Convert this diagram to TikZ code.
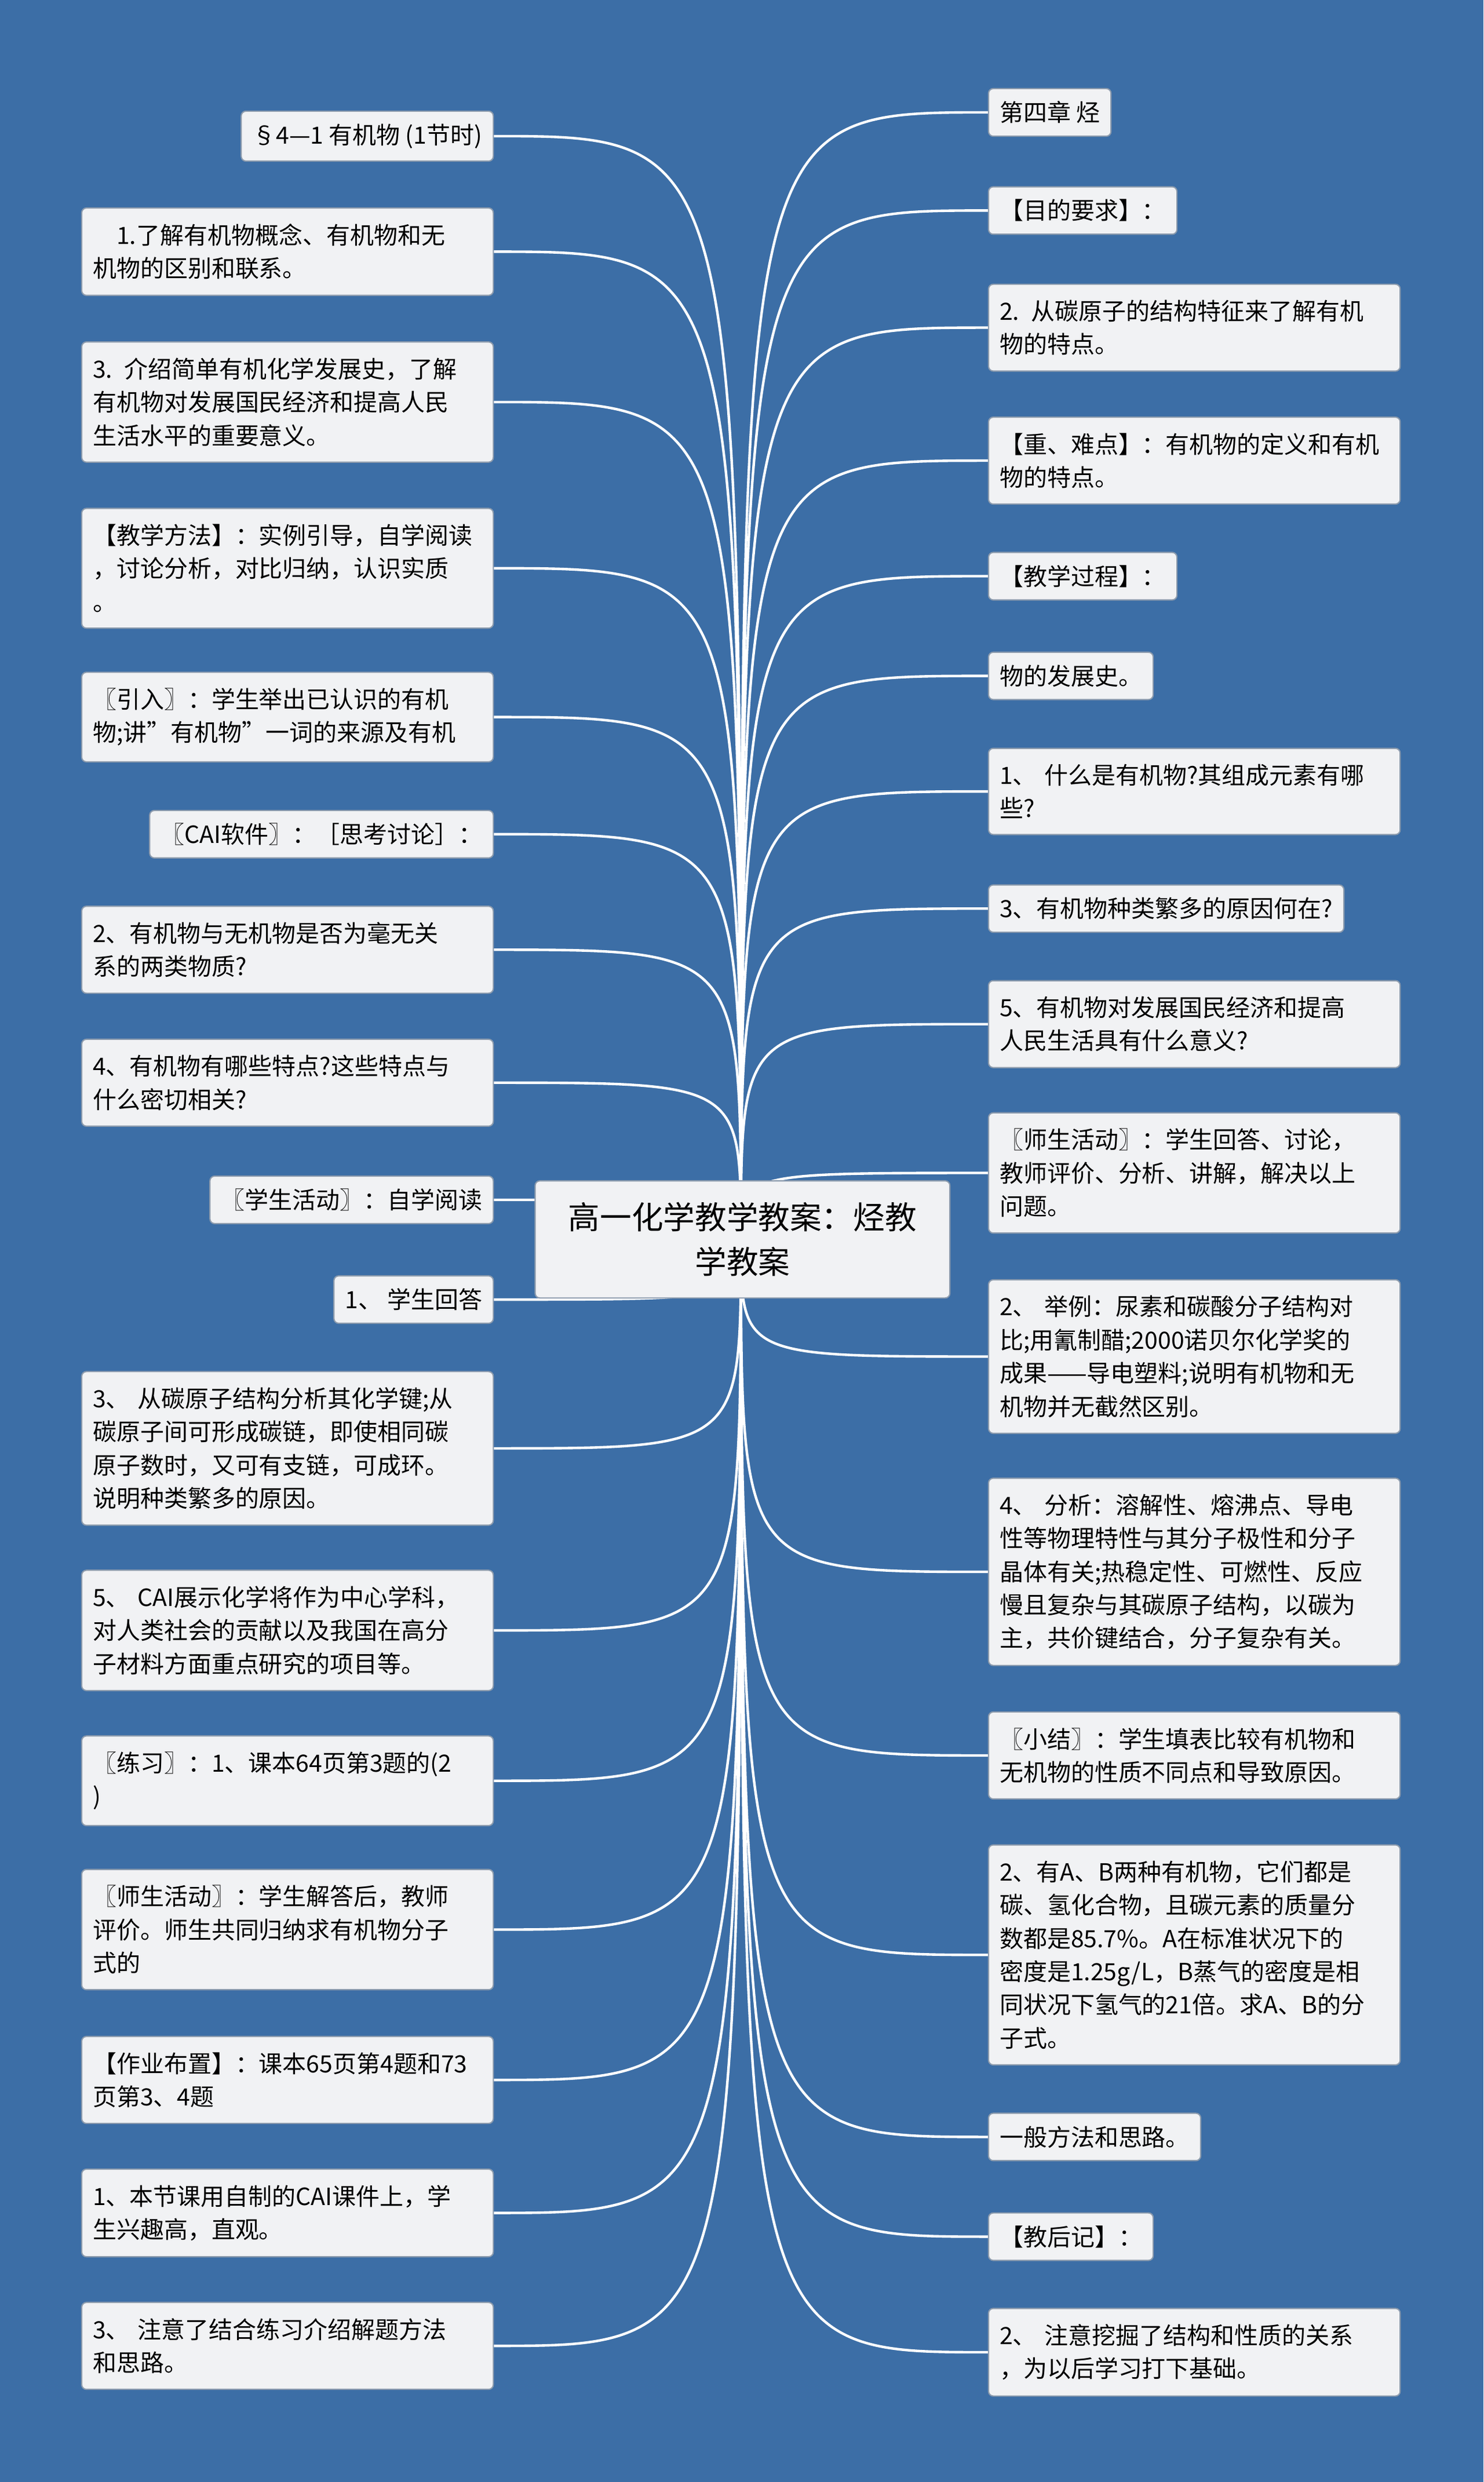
\documentclass[tikz,border=0pt]{standalone}
\usepackage{fontspec}
\setmainfont{Noto Sans CJK SC}
\usetikzlibrary{positioning,calc}
\definecolor{bgblue}{HTML}{3C6EA6}
\definecolor{boxfill}{HTML}{F1F2F4}
\definecolor{boxline}{HTML}{8C9BAD}
\tikzset{%
  topic/.style={draw=boxline,fill=boxfill,rounded corners=3pt,line width=0.8pt,inner xsep=7pt,inner ysep=8pt,
    font=\fontsize{15}{21}\selectfont,align=left},
  wide/.style={topic,text width=246pt,inner ysep=10pt},
  lnode/.style={anchor=east},
  rnode/.style={anchor=west},
}
\begin{document}
\begin{tikzpicture}[x=1pt,y=-1pt,
            link/.style={draw=white,line width=1.6pt}
            ]
  \fill[bgblue] (0,0) rectangle (937,1568);
  \useasboundingbox (0,0) rectangle (937,1568);
  \coordinate (hub) at (468,783);
  % left side
  \node[topic,lnode] (l1) at (312,86) {§4—1 有机物 (1节时)};
  \node[wide,lnode] (l2) at (312,159) {\hspace*{1em}1.了解有机物概念、有机物和无\\机物的区别和联系。};
  \node[wide,lnode] (l3) at (312,254) {3. 介绍简单有机化学发展史，了解\\有机物对发展国民经济和提高人民\\生活水平的重要意义。};
  \node[wide,lnode] (l4) at (312,359) {【教学方法】：实例引导，自学阅读\\，讨论分析，对比归纳，认识实质\\。};
  \node[wide,lnode] (l5) at (312,453) {〖引入〗：学生举出已认识的有机\\物;讲"有机物"一词的来源及有机};
  \node[topic,lnode] (l6) at (312,527) {〖CAI软件〗：［思考讨论］：};
  \node[wide,lnode] (l7) at (312,600) {2、有机物与无机物是否为毫无关\\系的两类物质?};
  \node[wide,lnode] (l8) at (312,684) {4、有机物有哪些特点?这些特点与\\什么密切相关?};
  \node[topic,lnode] (l9) at (312,758) {〖学生活动〗：自学阅读};
  \node[topic,lnode] (l10) at (312,821) {1、 学生回答};
  \node[wide,lnode] (l11) at (312,915) {3、 从碳原子结构分析其化学键;从\\碳原子间可形成碳链，即使相同碳\\原子数时，又可有支链，可成环。\\说明种类繁多的原因。};
  \node[wide,lnode] (l12) at (312,1030) {5、 CAI展示化学将作为中心学科，\\对人类社会的贡献以及我国在高分\\子材料方面重点研究的项目等。};
  \node[wide,lnode] (l13) at (312,1125) {〖练习〗：1、课本64页第3题的(2\\)};
  \node[wide,lnode] (l14) at (312,1219) {〖师生活动〗：学生解答后，教师\\评价。师生共同归纳求有机物分子\\式的};
  \node[wide,lnode] (l15) at (312,1314) {【作业布置】：课本65页第4题和73\\页第3、4题};
  \node[wide,lnode] (l16) at (312,1398) {1、本节课用自制的CAI课件上，学\\生兴趣高，直观。};
  \node[wide,lnode] (l17) at (312,1482) {3、 注意了结合练习介绍解题方法\\和思路。};
  % right side
  \node[topic,rnode] (r1) at (624,71) {第四章 烃};
  \node[topic,rnode] (r2) at (624,133) {【目的要求】：};
  \node[wide,rnode] (r3) at (624,207) {2. 从碳原子的结构特征来了解有机\\物的特点。};
  \node[wide,rnode] (r4) at (624,291) {【重、难点】：有机物的定义和有机\\物的特点。};
  \node[topic,rnode] (r5) at (624,364) {【教学过程】：};
  \node[topic,rnode] (r6) at (624,427) {物的发展史。};
  \node[wide,rnode] (r7) at (624,500) {1、 什么是有机物?其组成元素有哪\\些?};
  \node[topic,rnode] (r8) at (624,574) {3、有机物种类繁多的原因何在?};
  \node[wide,rnode] (r9) at (624,647) {5、有机物对发展国民经济和提高\\人民生活具有什么意义?};
  \node[wide,rnode] (r10) at (624,741) {〖师生活动〗：学生回答、讨论，\\教师评价、分析、讲解，解决以上\\问题。};
  \node[wide,rnode] (r11) at (624,857) {2、 举例：尿素和碳酸分子结构对\\比;用氰制醋;2000诺贝尔化学奖的\\成果——导电塑料;说明有机物和无\\机物并无截然区别。};
  \node[wide,rnode] (r12) at (624,993) {4、 分析：溶解性、熔沸点、导电\\性等物理特性与其分子极性和分子\\晶体有关;热稳定性、可燃性、反应\\慢且复杂与其碳原子结构，以碳为\\主，共价键结合，分子复杂有关。};
  \node[wide,rnode] (r13) at (624,1109) {〖小结〗：学生填表比较有机物和\\无机物的性质不同点和导致原因。};
  \node[wide,rnode] (r14) at (624,1235) {2、有A、B两种有机物，它们都是\\碳、氢化合物，且碳元素的质量分\\数都是85.7\%。A在标准状况下的\\密度是1.25g/L，B蒸气的密度是相\\同状况下氢气的21倍。求A、B的分\\子式。};
  \node[topic,rnode] (r15) at (624,1350) {一般方法和思路。};
  \node[topic,rnode] (r16) at (624,1413) {【教后记】：};
  \node[wide,rnode] (r17) at (624,1486) {2、 注意挖掘了结构和性质的关系\\，为以后学习打下基础。};
  % links
  \foreach \i in {1,...,17}{
    \draw[link] (hub) .. controls (hub |- l\i.east) and (hub |- l\i.east) .. (l\i.east);
    \draw[link] (hub) .. controls (hub |- r\i.west) and (hub |- r\i.west) .. (r\i.west);
  }
  \node[topic,minimum width=262pt,minimum height=74pt,align=center,font=\fontsize{20}{28}\selectfont] (ctr) at (469,783) {高一化学教学教案：烃教\\学教案};
\end{tikzpicture}
\end{document}
